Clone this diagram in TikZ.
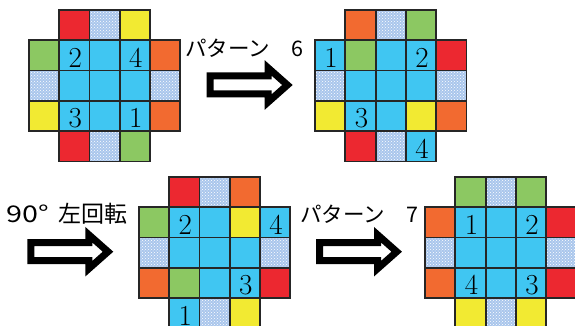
\documentclass[tikz,border=0pt]{standalone}
\usepackage{fontspec}
\usetikzlibrary{patterns}
\newfontfamily\jp{Noto Sans CJK JP}
\definecolor{cred}{HTML}{EC2830}
\definecolor{cyel}{HTML}{F2EA32}
\definecolor{cgrn}{HTML}{8CC862}
\definecolor{corg}{HTML}{F26A30}
\definecolor{cblu}{HTML}{40C6F2}
\definecolor{cchk}{HTML}{A9C6EC}
\definecolor{gline}{HTML}{262626}
\tikzset{
  cell/.style={rectangle, draw=gline, line width=1.8pt, minimum size=30.3pt, inner sep=0pt, outer sep=0pt},
  kR/.style={fill=cred}, kY/.style={fill=cyel}, kG/.style={fill=cgrn},
  kO/.style={fill=corg}, kB/.style={fill=cblu},
  kC/.style={preaction={fill=cchk}, pattern=crosshatch dots, pattern color=white},
  digit/.style={font=\fontsize{29}{29}\selectfont, inner sep=0pt, anchor=base},
  lbl/.style={font=\jp, inner sep=0pt, anchor=base west},
  arrowline/.style={draw=black, line width=7pt, fill=white, line join=miter},
}
\newcommand\mkgrid[4]{%
  \foreach \c/\r/\k in {#4} {
    \node[cell, style/.expanded=\k] (#1-\c\r) at ({#2+\c*30.3+15.15}, {#3+\r*30.3+15.15}) {};
  }}
\newcommand\blockarrow[2]{%
  \draw[arrowline] ({#1+3.5},{#2-9}) -- ({#1+61.5},{#2-9}) -- ({#1+61.5},{#2-17})
    -- ({#1+80.7},{#2}) -- ({#1+61.5},{#2+17}) -- ({#1+61.5},{#2+9})
    -- ({#1+3.5},{#2+9}) -- cycle;}
\begin{document}
\begin{tikzpicture}[x=1pt, y=-1pt]
\useasboundingbox[fill=white] (0,0) rectangle (575,326);
% grid 1
\mkgrid{a}{28.8}{10}{1/0/kR, 2/0/kC, 3/0/kY,
  0/1/kG, 1/1/kB, 2/1/kB, 3/1/kB, 4/1/kO,
  0/2/kC, 1/2/kB, 2/2/kB, 3/2/kB, 4/2/kC,
  0/3/kY, 1/3/kB, 2/3/kB, 3/3/kB, 4/3/kO,
  1/4/kR, 2/4/kC, 3/4/kG}
% grid 2
\mkgrid{b}{315}{10}{1/0/kO, 2/0/kC, 3/0/kG,
  0/1/kB, 1/1/kG, 2/1/kB, 3/1/kB, 4/1/kR,
  0/2/kC, 1/2/kB, 2/2/kB, 3/2/kB, 4/2/kC,
  0/3/kY, 1/3/kB, 2/3/kB, 3/3/kY, 4/3/kO,
  1/4/kR, 2/4/kC, 3/4/kB}
% grid 3
\mkgrid{c}{138.8}{176.8}{1/0/kR, 2/0/kC, 3/0/kO,
  0/1/kG, 1/1/kB, 2/1/kB, 3/1/kY, 4/1/kB,
  0/2/kC, 1/2/kB, 2/2/kB, 3/2/kB, 4/2/kC,
  0/3/kO, 1/3/kG, 2/3/kB, 3/3/kB, 4/3/kR,
  1/4/kB, 2/4/kC, 3/4/kY}
% grid 4
\mkgrid{d}{425}{176.8}{1/0/kG, 2/0/kC, 3/0/kG,
  0/1/kO, 1/1/kB, 2/1/kB, 3/1/kB, 4/1/kR,
  0/2/kC, 1/2/kB, 2/2/kB, 3/2/kB, 4/2/kC,
  0/3/kO, 1/3/kB, 2/3/kB, 3/3/kB, 4/3/kR,
  1/4/kY, 2/4/kC, 3/4/kY}
% digits
\node[digit] (a2) at ([xshift=1pt,yshift=3.2pt]a-11.south) {2};
\node[digit] (a4) at ([xshift=1pt,yshift=3.2pt]a-31.south) {4};
\node[digit] (a3) at ([xshift=1pt,yshift=3.2pt]a-13.south) {3};
\node[digit] (a1) at ([xshift=1pt,yshift=3.2pt]a-33.south) {1};
\node[digit] (b1) at ([xshift=1pt,yshift=3.2pt]b-01.south) {1};
\node[digit] (b2) at ([xshift=1pt,yshift=3.2pt]b-31.south) {2};
\node[digit] (b3) at ([xshift=1pt,yshift=3.2pt]b-13.south) {3};
\node[digit] (b4) at ([xshift=1pt,yshift=3.2pt]b-34.south) {4};
\node[digit] (c2) at ([xshift=1pt,yshift=3.2pt]c-11.south) {2};
\node[digit] (c4) at ([xshift=1pt,yshift=3.2pt]c-41.south) {4};
\node[digit] (c3) at ([xshift=1pt,yshift=3.2pt]c-33.south) {3};
\node[digit] (c1) at ([xshift=1pt,yshift=3.2pt]c-14.south) {1};
\node[digit] (d1) at ([xshift=1pt,yshift=3.2pt]d-11.south) {1};
\node[digit] (d2) at ([xshift=1pt,yshift=3.2pt]d-31.south) {2};
\node[digit] (d4) at ([xshift=1pt,yshift=3.2pt]d-13.south) {4};
\node[digit] (d3) at ([xshift=1pt,yshift=3.2pt]d-33.south) {3};
% arrows
\blockarrow{206.7}{85}
\blockarrow{27.3}{251.7}
\blockarrow{316}{251.7}
% labels
\node[lbl] (t6) at (185,57) {\fontsize{21.5}{21.5}\selectfont パターン　6};
\node[lbl] (t7) at (300,222) {\fontsize{21.5}{21.5}\selectfont パターン　7};
\node[lbl] (t90) at (6.5,222) {\fontsize{23}{23}\selectfont \scalebox{1.25}[1]{90°}\hspace{9pt}左回転};
\end{tikzpicture}
\end{document}
